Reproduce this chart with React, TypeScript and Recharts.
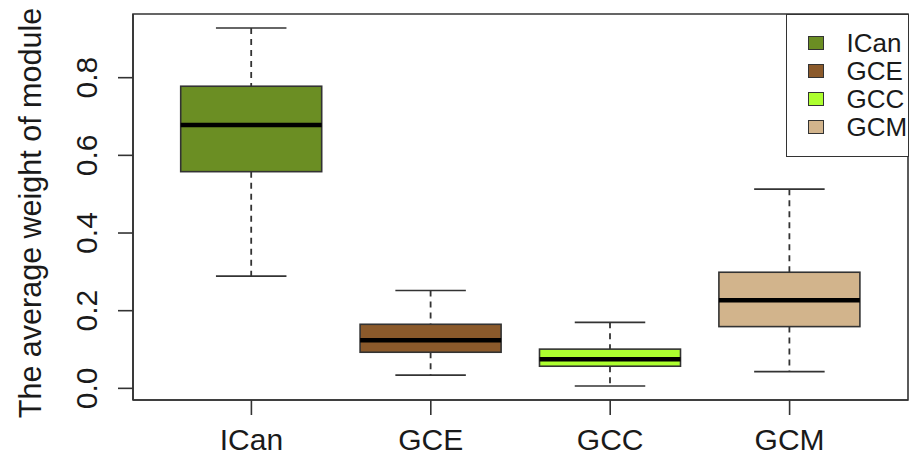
import React from 'react';
import { ComposedChart, Bar, XAxis, YAxis, Legend, ReferenceArea } from 'recharts';

const categories = ['ICan', 'GCE', 'GCC', 'GCM'];
const mins = [0.289, 0.034, 0.006, 0.043];
const q1s = [0.558, 0.093, 0.057, 0.159];
const medians = [0.678, 0.124, 0.075, 0.227];
const q3s = [0.778, 0.165, 0.101, 0.299];
const maxs = [0.928, 0.252, 0.170, 0.513];
const colors = ['#6B8E23', '#8B5A2B', '#ADFF2F', '#D2B48C'];
const yTicks = [0, 0.2, 0.4, 0.6, 0.8];
const yDomain = [-0.03, 0.964];
const xPositions = [1, 2, 3, 4];
const xDomain = [0.34, 4.66];
const yTitle = 'The average weight of module';

const data = categories.map((name, i) => ({
  name,
  pos: xPositions[i],
  min: mins[i],
  q1: q1s[i],
  median: medians[i],
  q3: q3s[i],
  max: maxs[i],
  color: colors[i],
}));

const FONT = "'Liberation Sans', Arial, Helvetica, sans-serif";
const INK = '#1a1a1a';
const LINE = '#333';

const BoxShape = (props: any) => {
  const { x, y, width, height, payload } = props;
  if (!payload) return null;
  const top = Math.min(y, y + height);
  const h = Math.abs(height);
  const span = payload.max - payload.min;
  const py = (v: number) => top + ((payload.max - v) / span) * h;
  const cx = x + width / 2;
  const capHalf = width / 4;
  const yMax = py(payload.max);
  const yQ3 = py(payload.q3);
  const yMed = py(payload.median);
  const yQ1 = py(payload.q1);
  const yMin = py(payload.min);
  return (
    <g>
      <line x1={cx} x2={cx} y1={yMax} y2={yQ3} stroke={LINE} strokeWidth={1.8} strokeDasharray="6 5" />
      <line x1={cx} x2={cx} y1={yQ1} y2={yMin} stroke={LINE} strokeWidth={1.8} strokeDasharray="6 5" />
      <line x1={cx - capHalf} x2={cx + capHalf} y1={yMax} y2={yMax} stroke={LINE} strokeWidth={1.6} />
      <line x1={cx - capHalf} x2={cx + capHalf} y1={yMin} y2={yMin} stroke={LINE} strokeWidth={1.6} />
      <rect x={x} y={yQ3} width={width} height={yQ1 - yQ3} fill={payload.color} stroke={LINE} strokeWidth={1.6} />
      <line x1={x} x2={x + width} y1={yMed} y2={yMed} stroke="#000" strokeWidth={4.5} />
    </g>
  );
};

const YTick = (props: any) => {
  const { x, y, payload } = props;
  const cx = x - 31;
  return (
    <text
      x={cx}
      y={y}
      transform={`rotate(-90, ${cx}, ${y})`}
      textAnchor="middle"
      dominantBaseline="central"
      fontSize={30}
      fontFamily={FONT}
      fill={INK}
    >
      {Number(payload.value).toFixed(1)}
    </text>
  );
};

const XTick = (props: any) => {
  const { x, y, payload } = props;
  const idx = xPositions.indexOf(Number(payload.value));
  return (
    <text x={x} y={y + 35} textAnchor="middle" fontSize={30} fontFamily={FONT} fill={INK}>
      {idx >= 0 ? categories[idx] : ''}
    </text>
  );
};

const YTitle = (props: any) => {
  const vb = props.viewBox || { x: 0, y: 14, width: 133, height: 386 };
  const cx = vb.x + 30;
  const cy = vb.y + vb.height / 2 + 6;
  return (
    <text
      x={cx}
      y={cy}
      transform={`rotate(-90, ${cx}, ${cy})`}
      textAnchor="middle"
      dominantBaseline="central"
      fontSize={30.5}
      fontFamily={FONT}
      fill={INK}
    >
      {yTitle}
    </text>
  );
};

const LegendBox = () => (
  <div
    style={{
      width: 123,
      height: 143,
      border: `1.5px solid ${LINE}`,
      background: '#fff',
      boxSizing: 'border-box',
      position: 'relative',
      fontFamily: FONT,
      fontSize: 26,
    }}
  >
    {categories.map((c, i) => (
      <div
        key={c}
        style={{
          position: 'absolute',
          left: 0,
          top: 14.2 + i * 28,
          height: 28,
          display: 'flex',
          alignItems: 'center',
          whiteSpace: 'nowrap',
        }}
      >
        <span
          style={{
            display: 'inline-block',
            marginLeft: 20.5,
            width: 16,
            height: 14,
            background: colors[i],
            border: `1.5px solid ${LINE}`,
            boxSizing: 'border-box',
          }}
        />
        <span style={{ marginLeft: 23, lineHeight: '28px', color: INK }}>{c}</span>
      </div>
    ))}
  </div>
);

export default function App() {
  return (
    <div style={{ position: 'absolute', left: 0, top: 0, background: '#fff' }}>
      <ComposedChart
        width={911}
        height={457}
        data={data}
        margin={{ top: 14, right: 3, bottom: 0, left: 0 }}
        barCategoryGap={19}
      >
        <XAxis
          dataKey="pos"
          type="number"
          domain={xDomain}
          ticks={xPositions}
          allowDataOverflow
          height={57}
          tickSize={15}
          tickMargin={0}
          tick={<XTick />}
          tickLine={{ stroke: LINE, strokeWidth: 1.6 }}
          axisLine={{ stroke: LINE, strokeWidth: 1.6 }}
          interval={0}
        />
        <YAxis
          type="number"
          width={133}
          domain={yDomain}
          ticks={yTicks}
          allowDataOverflow
          tickSize={15}
          tickMargin={0}
          tick={<YTick />}
          tickLine={{ stroke: LINE, strokeWidth: 1.6 }}
          axisLine={{ stroke: LINE, strokeWidth: 1.6 }}
          label={YTitle}
        />
        <ReferenceArea
          x1={xDomain[0]}
          x2={xDomain[1]}
          y1={yDomain[0]}
          y2={yDomain[1]}
          fill="none"
          fillOpacity={0}
          stroke={LINE}
          strokeWidth={1.6}
          ifOverflow="visible"
        />
        <Bar
          dataKey={(d: any) => [d.min, d.max]}
          shape={<BoxShape />}
          isAnimationActive={false}
        />
        <Legend
          layout="vertical"
          align="center"
          verticalAlign="middle"
          content={<LegendBox />}
          wrapperStyle={{ left: 786, top: 14, width: 123, height: 143 }}
        />
      </ComposedChart>
    </div>
  );
}
